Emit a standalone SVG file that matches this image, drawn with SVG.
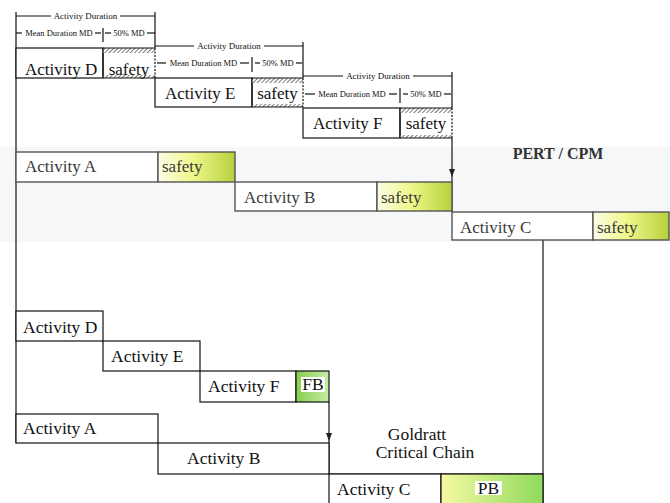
<svg xmlns="http://www.w3.org/2000/svg" width="670" height="503" viewBox="0 0 670 503">
<defs>
  <pattern id="hatch" width="3" height="3" patternUnits="userSpaceOnUse" patternTransform="rotate(45)">
    <rect width="3" height="3" fill="#fff"/>
    <line x1="0" y1="0" x2="0" y2="3" stroke="#222" stroke-width="1.2"/>
  </pattern>
  <linearGradient id="gSafety" x1="0" y1="0" x2="1" y2="0">
    <stop offset="0" stop-color="#fbfde6"/>
    <stop offset="0.45" stop-color="#eff78a"/>
    <stop offset="1" stop-color="#b6d13c"/>
  </linearGradient>
  <linearGradient id="gFB" x1="0" y1="0" x2="1" y2="0">
    <stop offset="0" stop-color="#86cf4e"/>
    <stop offset="1" stop-color="#c8eca6"/>
  </linearGradient>
  <linearGradient id="gPB" x1="0" y1="0" x2="1" y2="0">
    <stop offset="0" stop-color="#f6f9a2"/>
    <stop offset="1" stop-color="#8fdb5c"/>
  </linearGradient>
  <marker id="arr" markerWidth="8" markerHeight="6" refX="8" refY="3" orient="auto" markerUnits="userSpaceOnUse">
    <path d="M0,0 L8,3 L0,6 Z" fill="#222"/>
  </marker>
</defs>
<style>
  .t{font-family:"Liberation Serif","Times New Roman","DejaVu Serif",serif;fill:#111}
  .big{font-size:17px}
  .cc{font-size:17.5px}
  .pert{font-size:17px;fill:#3a3a3a}
  .sm{font-size:8.5px}
  .ln{stroke:#111;stroke-width:1.2;fill:none}
  .box{fill:#fff;stroke:#111;stroke-width:1.2}
  .pbox{fill:#fff;stroke:#555;stroke-width:1.4}
  .psafe{fill:url(#gSafety);stroke:#555;stroke-width:1.4}
</style>
<rect width="670" height="503" fill="#fff"/>
<rect x="0" y="147" width="670" height="95" fill="#f6f7f9"/>

<g id="connectors">
  <line class="ln" x1="16" y1="12" x2="16" y2="443"/>
  <line class="ln" x1="155" y1="12" x2="155" y2="48"/>
  <line class="ln" x1="16" y1="16" x2="51" y2="16"/>
  <line class="ln" x1="120" y1="16" x2="155" y2="16"/>
  <line class="ln" x1="16" y1="33" x2="22" y2="33"/>
  <line class="ln" x1="95" y1="33" x2="101" y2="33"/>
  <line class="ln" x1="103" y1="28" x2="103" y2="42"/>
  <line class="ln" x1="105" y1="33" x2="111" y2="33"/>
  <line class="ln" x1="147" y1="33" x2="155" y2="33"/>
  <line class="ln" x1="303" y1="42" x2="303" y2="78"/>
  <line class="ln" x1="155" y1="46" x2="194" y2="46"/>
  <line class="ln" x1="264" y1="46" x2="303" y2="46"/>
  <line class="ln" x1="157" y1="63" x2="166" y2="63"/>
  <line class="ln" x1="240" y1="63" x2="249" y2="63"/>
  <line class="ln" x1="252" y1="57" x2="252" y2="72"/>
  <line class="ln" x1="255" y1="63" x2="260" y2="63"/>
  <line class="ln" x1="296" y1="63" x2="302" y2="63"/>
  <line class="ln" x1="452" y1="72" x2="452" y2="108"/>
  <line class="ln" x1="303" y1="76" x2="343" y2="76"/>
  <line class="ln" x1="413" y1="76" x2="452" y2="76"/>
  <line class="ln" x1="305" y1="94" x2="315" y2="94"/>
  <line class="ln" x1="389" y1="94" x2="397" y2="94"/>
  <line class="ln" x1="400" y1="88" x2="400" y2="103"/>
  <line class="ln" x1="403" y1="94" x2="408" y2="94"/>
  <line class="ln" x1="444" y1="94" x2="451" y2="94"/>
  <line class="ln" x1="452" y1="138" x2="452" y2="177" marker-end="url(#arr)"/>
  <line class="ln" x1="452" y1="177" x2="452" y2="212"/>
  <line class="ln" x1="543" y1="240" x2="543" y2="503"/>
  <line class="ln" x1="329" y1="402" x2="329" y2="441" marker-end="url(#arr)"/>
  <line class="ln" x1="329" y1="441" x2="329" y2="474"/>
  <line class="ln" x1="329" y1="474" x2="543" y2="474"/>
</g>

<g id="dim-labels">
  <text class="t sm" x="85.5" y="19" text-anchor="middle" style="font-size:9px">Activity Duration</text>
  <text class="t sm" x="59" y="36" text-anchor="middle">Mean Duration MD</text>
  <text class="t sm" x="129" y="36" text-anchor="middle">50% MD</text>
  <text class="t sm" x="229" y="49" text-anchor="middle" style="font-size:9px">Activity Duration</text>
  <text class="t sm" x="203.5" y="66" text-anchor="middle">Mean Duration MD</text>
  <text class="t sm" x="278" y="66" text-anchor="middle">50% MD</text>
  <text class="t sm" x="378" y="79" text-anchor="middle" style="font-size:9px">Activity Duration</text>
  <text class="t sm" x="352" y="97" text-anchor="middle">Mean Duration MD</text>
  <text class="t sm" x="426" y="97" text-anchor="middle">50% MD</text>
</g>

<g id="pert-D">
  <rect class="box" x="16" y="48" width="87" height="30"/>
  <text class="t big" x="25" y="74.5">Activity D</text>
  <rect x="103" y="48" width="52" height="5" fill="url(#hatch)"/>
  <rect x="103" y="75" width="52" height="3" fill="url(#hatch)"/>
  <path class="ln" d="M103,48 H155 M103,48 V78 M103,78 H155"/>
  <line class="ln" x1="155" y1="48" x2="155" y2="78" stroke-dasharray="2,1.5"/>
  <text class="t big" x="129" y="74.5" text-anchor="middle">safety</text>
</g>

<g id="pert-E">
  <rect class="box" x="155" y="78" width="97" height="29"/>
  <text class="t big" x="165" y="98.5">Activity E</text>
  <rect x="252" y="78" width="51" height="5" fill="url(#hatch)"/>
  <rect x="252" y="104" width="51" height="3" fill="url(#hatch)"/>
  <path class="ln" d="M252,78 H303 M252,78 V107 M252,107 H303"/>
  <line class="ln" x1="303" y1="78" x2="303" y2="107" stroke-dasharray="2,1.5"/>
  <text class="t big" x="277.5" y="98.5" text-anchor="middle">safety</text>
</g>

<g id="pert-F">
  <rect class="box" x="303" y="108" width="97" height="30"/>
  <text class="t big" x="313" y="128.5">Activity F</text>
  <rect x="400" y="108" width="52" height="5" fill="url(#hatch)"/>
  <rect x="400" y="135" width="52" height="3" fill="url(#hatch)"/>
  <path class="ln" d="M400,108 H452 M400,108 V138 M400,138 H452"/>
  <line class="ln" x1="452" y1="108" x2="452" y2="138" stroke-dasharray="2,1.5"/>
  <text class="t big" x="426" y="128.5" text-anchor="middle">safety</text>
</g>

<g id="pert-A">
  <rect class="pbox" x="16" y="152" width="142" height="30"/>
  <rect class="psafe" x="158" y="152" width="77" height="30"/>
  <text class="t pert" x="25" y="172">Activity A</text>
  <text class="t pert" x="162" y="172">safety</text>
</g>

<g id="pert-B">
  <rect class="pbox" x="235" y="182" width="142" height="29"/>
  <rect class="psafe" x="377" y="182" width="75" height="29"/>
  <text class="t pert" x="244" y="203">Activity B</text>
  <text class="t pert" x="381" y="203">safety</text>
</g>

<g id="pert-C">
  <rect class="pbox" x="452" y="212" width="141" height="28"/>
  <rect class="psafe" x="593" y="212" width="76" height="28"/>
  <text class="t pert" x="460" y="232.5">Activity C</text>
  <text class="t pert" x="597" y="232.5">safety</text>
</g>

<g id="title-pert">
  <text class="t" x="558" y="159" text-anchor="middle" style="font-size:16px;font-weight:bold;fill:#333">PERT / CPM</text>
</g>

<g id="cc-D">
  <rect class="box" x="16" y="311" width="87" height="30"/>
  <text class="t cc" x="23" y="332.5">Activity D</text>
</g>
<g id="cc-E">
  <rect class="box" x="103" y="341" width="97" height="30"/>
  <text class="t cc" x="111" y="361.5">Activity E</text>
</g>
<g id="cc-F">
  <rect class="box" x="200" y="371" width="96" height="31"/>
  <text class="t cc" x="208" y="392">Activity F</text>
</g>
<g id="cc-FB">
  <rect x="296" y="371" width="33" height="31" fill="url(#gFB)" stroke="#111" stroke-width="1.2"/>
  <rect x="301" y="377" width="24" height="15" fill="#fff"/>
  <text class="t cc" x="313" y="390" text-anchor="middle">FB</text>
</g>
<g id="cc-A">
  <rect class="box" x="16" y="414" width="142" height="29"/>
  <text class="t cc" x="23" y="433.5">Activity A</text>
</g>
<g id="cc-B">
  <rect class="box" x="158" y="443" width="171" height="31"/>
  <text class="t cc" x="187" y="463.5">Activity B</text>
</g>
<g id="cc-C">
  <rect class="box" x="329" y="474" width="112" height="32"/>
  <text class="t cc" x="337" y="494.5">Activity C</text>
</g>
<g id="cc-PB">
  <rect x="441" y="474" width="102" height="32" fill="url(#gPB)" stroke="#111" stroke-width="1.2"/>
  <rect x="475" y="481" width="27" height="14" fill="#fff"/>
  <text class="t cc" x="488.5" y="494" text-anchor="middle">PB</text>
</g>
<g id="title-cc">
  <text class="t cc" x="417" y="439.5" text-anchor="middle">Goldratt</text>
  <text class="t cc" x="425" y="458" text-anchor="middle">Critical Chain</text>
</g>
</svg>
